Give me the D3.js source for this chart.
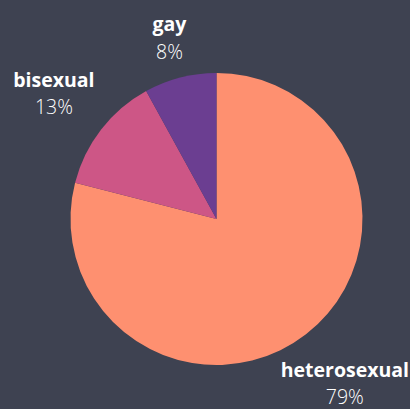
<!DOCTYPE html>
<html>
<head>
<meta charset="utf-8">
<script src="https://cdn.jsdelivr.net/npm/d3@7/dist/d3.min.js"></script>
<style>
  html, body { margin: 0; padding: 0; background: #3e4251; }
  svg { display: block; }
</style>
</head>
<body>
<svg id="chart" width="410" height="409"></svg>
<script>
const categories = ["heterosexual", "bisexual", "gay"];
const values = [79, 13, 8];
const colors = ["#fe9070", "#cd5686", "#6b3e91"];

const W = 410, H = 409;
const cx = 216.5, cy = 219, radius = 146;
const labelGap = 157;

const svg = d3.select("#chart");
svg.append("rect").attr("width", W).attr("height", H).attr("fill", "#3e4251");

const data = categories.map((c, i) => ({ name: c, value: values[i] }));
const total = d3.sum(values);
const color = d3.scaleOrdinal().domain(categories).range(colors);

const pie = d3.pie().value(d => d.value).sort(null);
const arc = d3.arc().innerRadius(0).outerRadius(radius);
const arcs = pie(data);

const g = svg.append("g").attr("transform", `translate(${cx},${cy})`);
g.selectAll("path").data(arcs).join("path")
  .attr("d", arc)
  .attr("fill", d => color(d.data.name));

const labels = g.selectAll("g.lbl").data(arcs).join("g").attr("class", "lbl");
labels.append("text")
  .attr("text-anchor", "middle")
  .attr("font-family", "'Open Sans', sans-serif")
  .attr("font-weight", 700)
  .attr("font-size", 19.5)
  .attr("fill", "#ffffff")
  .attr("y", 0)
  .text(d => d.data.name);
labels.append("text")
  .attr("text-anchor", "middle")
  .attr("font-family", "'Open Sans', sans-serif")
  .attr("font-weight", 300)
  .attr("font-size", 19.5)
  .attr("fill", "#ffffff")
  .attr("y", 27.5)
  .text(d => Math.round(d.data.value / total * 100) + "%");

labels.each(function(d) {
  const node = d3.select(this);
  const bb = this.getBBox();
  const a = (d.startAngle + d.endAngle) / 2;
  const ux = Math.sin(a), uy = -Math.cos(a);
  const kx = -Math.sign(ux) * bb.width / 2, ky = -Math.sign(uy) * bb.height / 2;
  const uk = ux * kx + uy * ky;
  const kk = kx * kx + ky * ky;
  const t = -uk + Math.sqrt(uk * uk - kk + labelGap * labelGap);
  const bcx = bb.x + bb.width / 2, bcy = bb.y + bb.height / 2;
  let px = cx + t * ux, py = cy + t * uy;
  // keep the label block inside the canvas
  px = Math.max(bb.width / 2 + 2, Math.min(W - bb.width / 2 - 1, px));
  py = Math.max(bb.height / 2, Math.min(H + 1 - bb.height / 2, py));
  node.attr("transform", `translate(${px - cx - bcx},${py - cy - bcy})`);
});
</script>
</body>
</html>
